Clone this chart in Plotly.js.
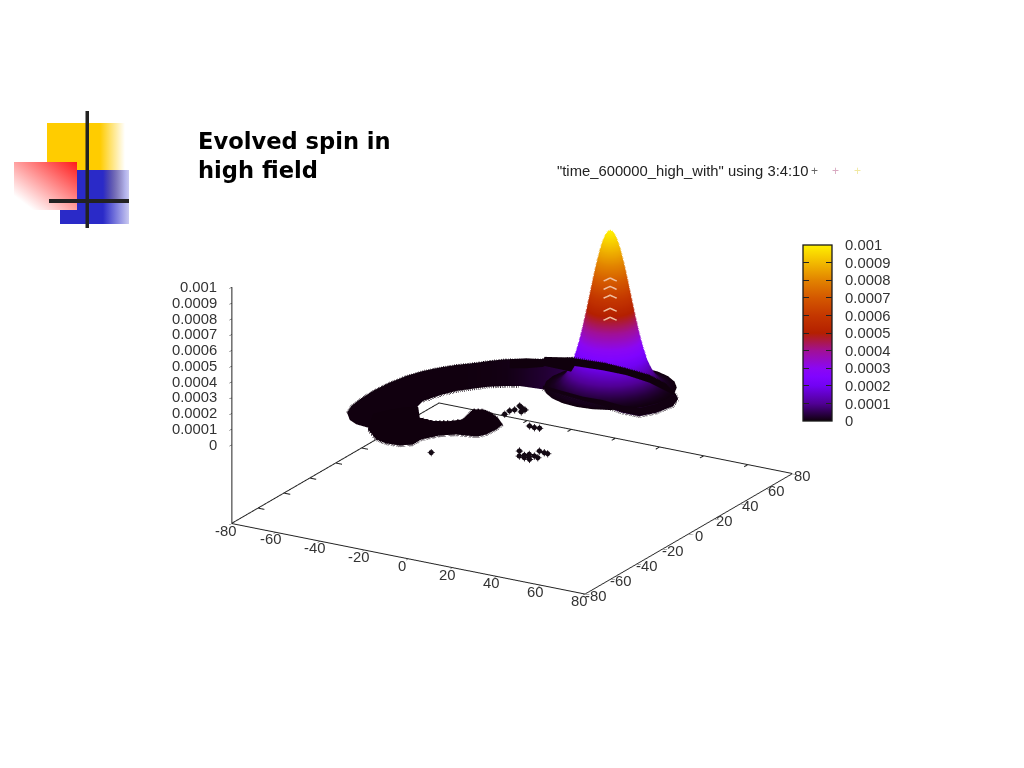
<!DOCTYPE html>
<html><head><meta charset="utf-8">
<script src="https://cdn.plot.ly/plotly-3.0.1.min.js"></script>
<style>html,body{margin:0;padding:0;background:#fff;overflow:hidden}#plot{width:1024px;height:768px}</style>
</head><body><div id="plot"></div>
<script>
// ---------- data ----------
const xTicks=[-80,-60,-40,-20,0,20,40,60,80];
const yTicks=[-80,-60,-40,-20,0,20,40,60,80];
const zTicks=[0,0.0001,0.0002,0.0003,0.0004,0.0005,0.0006,0.0007,0.0008,0.0009,0.001];
const zTickText=['0','0.0001','0.0002','0.0003','0.0004','0.0005','0.0006','0.0007','0.0008','0.0009','0.001'];

// main peak: height (millionths) against distance from its centre
const peakCentre=[14.6,51];
const peakRadius=[0,1,2,3,4,5,6,7,8,9,10,11,12,13,14,15,16,17,18,20,22,24,26];
const peakMicro=[1000,992,968,929,877,814,744,669,591,514,440,370,306,249,200,157,122,93,70,37,19,9,4];
const ringCos=[1,0.966,0.866,0.707,0.5,0.259,0,-0.259,-0.5,-0.707,-0.866,-0.966,-1,-0.966,-0.866,-0.707,-0.5,-0.259,0,0.259,0.5,0.707,0.866,0.966,1];
const ringSin=[0,0.259,0.5,0.707,0.866,0.966,1,0.966,0.866,0.707,0.5,0.259,0,-0.259,-0.5,-0.707,-0.866,-0.966,-1,-0.966,-0.866,-0.707,-0.5,-0.259,0];
const edgeDirX=0.863, edgeDirY=0.505;

// pale gaps between the rows of points on the peak
const glintX=[15.4,17.6,19.8,null,15.4,17.6,19.8,null,15.4,17.6,19.8,null,15.4,17.6,19.8,null,15.4,17.6,19.8];
const glintY=[44.5,45.8,47.1,null,44.5,45.8,47.1,null,44.5,45.8,47.1,null,44.5,45.8,47.1,null,44.5,45.8,47.1];
const glintMicro=[712,731,712,null,659,678,659,null,603,622,603,null,520,539,520,null,463,482,463];

// upper arc of the spin band: far edge and near edge
const arcOuterX=[-59.5,-62,-63,-63.4,-62.6,-60.9,-58.1,-54.5,-50.4,-45.8,-41.5,-36.9,-32.4,-24.5,-15.4,-2.3,8.8,20.6,31.2,40.8,43.3];
const arcOuterY=[-25.9,-18.4,-10.1,0.8,12.4,22.3,30.5,37.1,43,48,53.6,58.5,61.1,65.7,73.3,74.2,73.2,71.1,65.8,57.1,54.1];
const arcInnerX=[-54.4,-49.6,-43.7,-40,-36,-37.9,-40.7,-38.4,-35.3,-31,-26.6,-21.3,-16.9,-7.1,2.6,22.9,33.5,41,44.7,46.5,44.3];
const arcInnerY=[-32.6,-35.6,-36.6,-34,-28,-13.2,0.7,9.6,17.2,22.8,28.1,32,34.6,35.9,34.8,31.1,28.4,28.4,35,44.9,52.5];
const arcColourMicro=[4,4,4,4,4,4,4,4,4,5,6,8,15,30,50,60,60,40,25,10,5];

// dark strip lying over the foot of the peak
const stripTopX=[-35.7,-30.7,-24.5,-25.3,-15.4,-14.4,-2.3,8.8,20.6,31.2,40.8,43.3];
const stripTopY=[59.2,63.4,65.7,68.4,73.3,72.9,74.2,73.2,71.1,65.8,57.1,54.1];
const stripLowX=[-30.5,-24.9,-20,-20.1,-7.8,-9.9,2.1,12.7,25,35.5,41.8,43.3];
const stripLowY=[50.2,53.5,58.1,59.4,59,65.3,66.6,66.5,63.5,58.5,55.5,54.1];

// dark rim along the near side of the band
const rimTopX=[-9,10.9,19.6,29.6,36.6,39.9,40.6,43.3];
const rimTopY=[39.2,36.1,36.7,35,36,43.3,54.8,54.1];
const rimLowX=[-7.1,13.2,22.9,33.5,41,44.7,46.5,44.3];
const rimLowY=[35.9,32.2,31.1,28.4,28.4,35,44.9,52.5];

// lower branch of the band
const lowTopX=[-43.7,-50,-47,-43,-39,-32.1,-25.7,-20.1,-16.6,-17.8,-19,-15.6,-10.9,-5.7];
const lowTopY=[-36.6,-22,-15,-9,-6,-16.5,-17.2,-14,-9.7,-3.7,2.2,4.2,2.5,-1.1];
const lowLowX=[-42.8,-34.2,-28.5,-22.8,-18.9,-19,-15.1,-10.1,-3.5,-1.3,0,0.5,-0.2,-0.2];
const lowLowY=[-38.3,-46.6,-48.6,-48,-44.4,-37.8,-30.2,-25.9,-24.3,-23,-20,-13.1,-6.8,-6.8];

// isolated clusters of points
const strayX=[-2.8,-5.2,-1.1,-1.2,-3.7,-4.6,-5.7,-5.4,9.8,12.4,14.5,-7.9,20.9,23.8,26.5,26.2,28.9,27.7,30.3,32,29.2,31,25.1,27.6];
const strayY=[12.6,14.7,11.8,9.1,13.4,9.8,7.8,3.5,-3.2,-3.9,-3.5,-49,-30,-35,-35.7,-31.4,-32,-26.1,-26.8,-27.1,-36.3,-33,-33.3,-33.7];
const strayMicro=[5,5,5,5,5,5,5,5,5,5,5,5,5,5,5,5,5,5,5,5,5,5,5,5];

// colour table of the palette
const paletteStops=[[0,'rgb(15,0,12)'],[0.1,'rgb(81,0,150)'],[0.2,'rgb(114,2,243)'],[0.25,'rgb(128,4,255)'],[0.3,'rgb(139,7,243)'],[0.4,'rgb(161,16,150)'],[0.5,'rgb(180,32,0)'],[0.6,'rgb(196,55,0)'],[0.7,'rgb(212,88,0)'],[0.8,'rgb(226,131,0)'],[0.9,'rgb(242,186,0)'],[1,'rgb(255,240,0)']];

// ---------- traces ----------
const flat={ambient:1,diffuse:0,specular:0,roughness:1,fresnel:0};
const cm={colorscale:paletteStops,cmin:0,cmax:0.001,showscale:false,lighting:flat,hoverinfo:'skip'};
const micro=v=>v==null?null:v*1e-6;
function band(scene,ax,ay,bx,by,zs,colours){
  const t={type:'surface',scene,x:[ax,bx],y:[ay,by],z:[zs,zs]};
  if(colours) t.surfacecolor=[colours,colours];
  return Object.assign(t,cm);
}
const level=(a,v)=>a.map(()=>v*1e-6);
const peakXs=peakRadius.map(r=>ringCos.map(c=>peakCentre[0]+r*c));
const peakYs=peakRadius.map(r=>ringSin.map(s=>peakCentre[1]+r*s));
const peakZs=peakMicro.map(m=>ringCos.map(()=>m*1e-6));
const fuzz=(xs,ys,zv)=>({type:'scatter3d',scene:'scene2',mode:'lines',hoverinfo:'skip',
  x:xs,y:ys,z:xs.map(()=>zv*1e-6),line:{color:'#120410',width:5,dash:'dot'}});
const sideIdx=peakRadius.map((r,i)=>i).filter(i=>peakRadius[i]<=14);
const sideSigned=[...sideIdx.slice().reverse().map(i=>[-peakRadius[i],peakMicro[i]]),...sideIdx.slice(1).map(i=>[peakRadius[i],peakMicro[i]])];
const peakEdge={type:'scatter3d',scene:'scene2',mode:'lines',hoverinfo:'skip',
  x:sideSigned.map(p=>peakCentre[0]+p[0]*edgeDirX),y:sideSigned.map(p=>peakCentre[1]+p[0]*edgeDirY),z:sideSigned.map(p=>p[1]*1e-6),
  line:{width:3,dash:'dot',color:sideSigned.map(p=>p[1]*1e-6),colorscale:paletteStops,cmin:0,cmax:0.001}};
// border and tick marks on the far sides of the base plane
const farEdge=79.9, floorZ=-0.000497;
const backX=[],backY=[],backZ=[];
yTicks.slice(1,-1).forEach(t=>{backX.push(-farEdge,-77,null);backY.push(t,t,null);backZ.push(floorZ,floorZ,null);});
xTicks.slice(1,-1).forEach(t=>{backX.push(t,t,null);backY.push(farEdge,77,null);backZ.push(floorZ,floorZ,null);});
const clearBar=(thickness)=>({type:'scatter3d',scene:'scene2',mode:'markers',x:[0],y:[0],z:[0],hoverinfo:'skip',
  marker:{size:1,opacity:0,color:[0],cmin:0,cmax:0.001,colorscale:[[0,'rgba(0,0,0,0)'],[1,'rgba(0,0,0,0)']],showscale:true,
    colorbar:{x:803/1024,xanchor:'left',xpad:0,ypad:0,y:1-333/768,yanchor:'middle',lenmode:'pixels',len:176,thicknessmode:'pixels',thickness,
      outlinewidth:0,tickmode:'array',tickvals:zTicks,ticktext:zTicks.map(()=>''),showticklabels:false,ticks:'inside',ticklen:6,tickcolor:'#222',tickwidth:1.3}}});
const traces=[
  band('scene',arcOuterX,arcOuterY,arcInnerX,arcInnerY,level(arcOuterX,3),arcColourMicro.map(micro)),
  Object.assign({type:'surface',scene:'scene',x:peakXs,y:peakYs,z:peakZs},cm,{
    showscale:true,
    colorbar:{x:803/1024,xanchor:'left',xpad:0,ypad:0,y:1-333/768,yanchor:'middle',lenmode:'pixels',len:176,thicknessmode:'pixels',thickness:29,
      outlinecolor:'#1a1a1a',outlinewidth:1.3,tickmode:'array',tickvals:zTicks,ticktext:zTickText,ticks:'outside',ticklen:10,tickcolor:'rgba(0,0,0,0)',
      tickfont:{family:'Liberation Sans',size:14.8,color:'#333'}}
  }),
  band('scene2',stripTopX,stripTopY,stripLowX,stripLowY,level(stripTopX,3)),
  band('scene2',rimTopX,rimTopY,rimLowX,rimLowY,level(rimTopX,6)),
  band('scene2',lowTopX,lowTopY,lowLowX,lowLowY,level(lowTopX,3)),
  fuzz(arcOuterX,arcOuterY,0),
  fuzz(arcInnerX.slice(5,13),arcInnerY.slice(5,13),0),
  fuzz(rimLowX,rimLowY,0),
  fuzz(lowTopX.slice(5),lowTopY.slice(5),0),
  fuzz(lowLowX,lowLowY,0),
  peakEdge,
  {type:'scatter3d',scene:'scene2',mode:'markers',x:strayX,y:strayY,z:strayMicro.map(micro),hoverinfo:'skip',
   marker:{symbol:'circle',size:3,color:'#140a14',line:{width:0}}},
  {type:'scatter3d',scene:'scene2',mode:'markers',x:strayX,y:strayY,z:strayMicro.map(micro),hoverinfo:'skip',
   marker:{symbol:'cross',size:4,color:'#140a14'}},
  {type:'scatter3d',scene:'scene2',mode:'lines',hoverinfo:'skip',line:{color:'#f0c0a0',width:3},
   x:glintX,y:glintY,z:glintMicro.map(micro)},
  {type:'scatter3d',scene:'scene',mode:'lines',hoverinfo:'skip',line:{color:'#222',width:2},
   x:[-farEdge,-farEdge,farEdge],y:[-farEdge,farEdge,farEdge],z:[floorZ,floorZ,floorZ]},
  {type:'scatter3d',scene:'scene',mode:'lines',hoverinfo:'skip',line:{color:'#222',width:2},
   x:backX,y:backY,z:backZ},
  clearBar(29),clearBar(6)
];

// ---------- layout ----------
const tickFont={family:'Liberation Sans',size:14.8,color:'#333'};
const ann=[];
xTicks.forEach(t=>ann.push({x:t,y:-80,z:-0.0005,text:String(t),showarrow:false,xshift:-6,yshift:-7,font:tickFont}));
yTicks.forEach(t=>ann.push({x:80,y:t,z:-0.0005,text:String(t),showarrow:false,xshift:10,yshift:-2,font:tickFont}));
zTicks.forEach((t,i)=>ann.push({x:-80,y:-80,z:t,text:zTickText[i],showarrow:false,xanchor:'right',xshift:-13,font:tickFont}));

const axis=(vals,rng)=>({range:rng,autorange:false,tickmode:'array',tickvals:vals,showticklabels:false,ticks:'outside',ticklen:5,tickcolor:'#222',
  showline:true,linecolor:'#222',linewidth:2,showgrid:false,zeroline:false,showbackground:false,showspikes:false,title:{text:''}});
const hidden=rng=>({range:rng,autorange:false,visible:false});
const camera={eye:{x:0.95,y:-1.62,z:0.68},up:{x:0,y:0,z:1},center:{x:0,y:0,z:0},projection:{type:'orthographic'}};
const aspect={x:1.076,y:1.076,z:0.6607};
const domain={x:[0,1],y:[0.0091,1]};

const svg="<svg xmlns='http://www.w3.org/2000/svg' width='140' height='130' viewBox='0 0 140 130'><defs>"+
"<linearGradient id='y'><stop offset='0.68' stop-color='#ffcc00'/><stop offset='1' stop-color='#ffcc00' stop-opacity='0'/></linearGradient>"+
"<linearGradient id='b'><stop offset='0.5' stop-color='#2a2ac8'/><stop offset='1' stop-color='#2a2ac8' stop-opacity='0.25'/></linearGradient>"+
"<linearGradient id='r' x1='1' y1='0' x2='0' y2='1'><stop offset='0' stop-color='#ff1a1a'/><stop offset='0.85' stop-color='#ff1a1a' stop-opacity='0'/></linearGradient>"+
"</defs>"+
"<rect x='37' y='13' width='78' height='78' fill='url(#y)'/>"+
"<rect x='67' y='60' width='52' height='54' fill='url(#b)'/><rect x='50' y='90' width='40' height='24' fill='#2a2ac8'/>"+
"<rect x='4' y='52' width='63' height='48' fill='white'/><rect x='4' y='52' width='63' height='48' fill='url(#r)'/>"+
"<rect x='75.5' y='1' width='3.5' height='117' fill='#222'/><rect x='39' y='89' width='80' height='4' fill='#222'/></svg>";

const layout={
  width:1024,height:768,margin:{l:0,r:0,t:0,b:0},paper_bgcolor:'#fff',showlegend:false,
  title:{text:'Evolved spin in<br>high field',x:198/1024,xanchor:'left',xref:'paper',y:1-149/768,yanchor:'top',
    font:{family:'DejaVu Sans',size:22.6,color:'#000',weight:700}},
  scene:{domain,camera,aspectmode:'manual',aspectratio:aspect,bgcolor:'rgba(0,0,0,0)',
    xaxis:axis(xTicks,[-80,80]),yaxis:axis(yTicks,[-80,80]),zaxis:axis(zTicks,[-0.0005,0.001]),annotations:ann},
  scene2:{domain,camera,aspectmode:'manual',aspectratio:aspect,bgcolor:'rgba(0,0,0,0)',
    xaxis:hidden([-80,80]),yaxis:hidden([-80,80]),zaxis:hidden([-0.0005,0.001])},
  images:[{source:'data:image/svg+xml;utf8,'+encodeURIComponent(svg),xref:'paper',yref:'paper',x:10/1024,y:1-110/768,sizex:140/1024,sizey:130/768,xanchor:'left',yanchor:'top',sizing:'stretch',layer:'below'}],
  annotations:[
    {xref:'paper',yref:'paper',x:555/1024,y:1-171/768,xanchor:'left',yanchor:'middle',showarrow:false,text:'"time_600000_high_with" using 3:4:10',font:{family:'Liberation Sans',size:14.8,color:'#222'}},
    {xref:'paper',yref:'paper',x:820/1024,y:1-171/768,yanchor:'middle',showarrow:false,text:'+',font:{family:'Liberation Sans',size:12,color:'#666'}},
    {xref:'paper',yref:'paper',x:841/1024,y:1-171/768,yanchor:'middle',showarrow:false,text:'+',font:{family:'Liberation Sans',size:12,color:'#d8a8c0'}},
    {xref:'paper',yref:'paper',x:863/1024,y:1-171/768,yanchor:'middle',showarrow:false,text:'+',font:{family:'Liberation Sans',size:12,color:'#f0e8a0'}}
  ]
};
Plotly.newPlot('plot',traces,layout,{displayModeBar:false});
</script></body></html>
